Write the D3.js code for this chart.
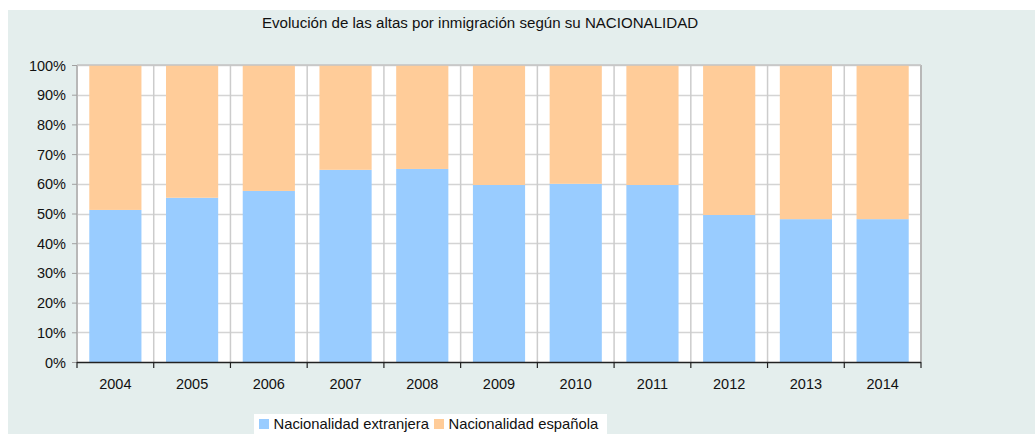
<!DOCTYPE html>
<html><head><meta charset="utf-8">
<script src="https://cdn.jsdelivr.net/npm/d3@7"></script>
<style>
html,body{margin:0;padding:0;background:#fff;}
svg{display:block;font-family:"Liberation Sans",Arial,sans-serif;}
</style></head>
<body><svg id="c" width="1035" height="435"></svg>
<script>
const years = ["2004","2005","2006","2007","2008","2009","2010","2011","2012","2013","2014"];
const extranjera = [51.2, 55.3, 57.6, 64.7, 65.0, 59.6, 60.0, 59.6, 49.5, 48.1, 48.1];
const espanola   = [48.8, 44.7, 42.4, 35.3, 35.0, 40.4, 40.0, 40.4, 50.5, 51.9, 51.9];
const seriesNames = ["Nacionalidad extranjera", "Nacionalidad española"];
const seriesColors = ["#99ccff", "#ffcc99"];
const yTicks = [0,10,20,30,40,50,60,70,80,90,100];
const title = "Evolución de las altas por inmigración según su NACIONALIDAD";

const svg = d3.select("#c");
const L = 77, R = 921, T = 65, B = 362;

svg.append("rect").attr("x",8).attr("y",10).attr("width",1027).attr("height",424).attr("fill","#e4eeed");
svg.append("rect").attr("x",L).attr("y",T).attr("width",R-L).attr("height",B-T).attr("fill","#ffffff");

const x = d3.scaleBand().domain(years).range([L,R]).padding(0);
const y = d3.scaleLinear().domain([0,100]).range([B,T]);

// horizontal gridlines
svg.append("g").selectAll("line").data(yTicks.slice(1)).join("line")
  .attr("x1",L).attr("x2",R).attr("y1",d=>Math.round(y(d))+0.5).attr("y2",d=>Math.round(y(d))+0.5)
  .attr("stroke","#d4d4d4").attr("stroke-width",1.5);
// vertical gridlines at category boundaries
const bounds = years.map(d=>x(d)).concat([R]);
svg.append("g").selectAll("line").data(bounds.slice(1,-1)).join("line")
  .attr("x1",d=>d).attr("x2",d=>d).attr("y1",T).attr("y2",B)
  .attr("stroke","#cccccc").attr("stroke-width",1.5);

// stacked bars
const data = years.map((yr,i)=>({year:yr, a:extranjera[i], b:espanola[i]}));
const stack = d3.stack().keys(["a","b"])(data);
const bw = x.bandwidth()*0.68, off = (x.bandwidth()-bw)/2;
svg.append("g").selectAll("g").data(stack).join("g").attr("fill",(d,i)=>seriesColors[i])
  .selectAll("rect").data(d=>d).join("rect")
  .attr("x",d=>x(d.data.year)+off).attr("width",bw)
  .attr("y",d=>y(Math.min(100,d[1]))).attr("height",d=>y(d[0])-y(Math.min(100,d[1])));

// frame: left & right axes gray
svg.append("line").attr("x1",L).attr("x2",L).attr("y1",T).attr("y2",B).attr("stroke","#b8b8b8").attr("stroke-width",2);
svg.append("line").attr("x1",R).attr("x2",R).attr("y1",T).attr("y2",B).attr("stroke","#b8b8b8").attr("stroke-width",2);
svg.append("line").attr("x1",L).attr("x2",R).attr("y1",T).attr("y2",T).attr("stroke","#c4c4c4").attr("stroke-width",1.5);

// y axis
const yAxis = d3.axisLeft(y).tickValues(yTicks).tickFormat(d=>d+"%").tickSize(5).tickPadding(6);
const gy = svg.append("g").attr("transform",`translate(${L},0)`).call(yAxis);
gy.select(".domain").remove();
gy.selectAll("line").attr("stroke","#a0a0a0");
gy.selectAll("text").attr("font-size","14.5px").attr("fill","#111").attr("font-family","Liberation Sans, Arial, sans-serif").attr("dy","0.35em");

// x axis
const gx = svg.append("g").attr("transform",`translate(0,${B})`);
gx.append("line").attr("x1",L).attr("x2",R).attr("y1",0.5).attr("y2",0.5).attr("stroke","#222").attr("stroke-width",1.5);
gx.selectAll("line.t").data(bounds).join("line").attr("class","t")
  .attr("x1",d=>d).attr("x2",d=>d).attr("y1",0).attr("y2",6).attr("stroke","#222").attr("stroke-width",1.2);
gx.selectAll("text").data(years).join("text")
  .attr("x",d=>x(d)+x.bandwidth()/2).attr("y",27).attr("text-anchor","middle")
  .attr("font-size","14.5px").attr("fill","#111").text(d=>d);

// title
svg.append("text").attr("x",480).attr("y",28).attr("text-anchor","middle")
  .attr("font-size","15.1px").attr("fill","#111").text(title);

// legend
const lg = svg.append("g");
lg.append("rect").attr("x",254).attr("y",414).attr("width",353).attr("height",21).attr("fill","#fff");
const lx = [259, 434];
seriesNames.forEach((n,i)=>{
  lg.append("rect").attr("x",lx[i]).attr("y",419).attr("width",10).attr("height",10).attr("fill",seriesColors[i]);
  lg.append("text").attr("x",lx[i]+14.5).attr("y",429).attr("font-size","14.8px").attr("fill","#111").text(n);
});
</script></body></html>
